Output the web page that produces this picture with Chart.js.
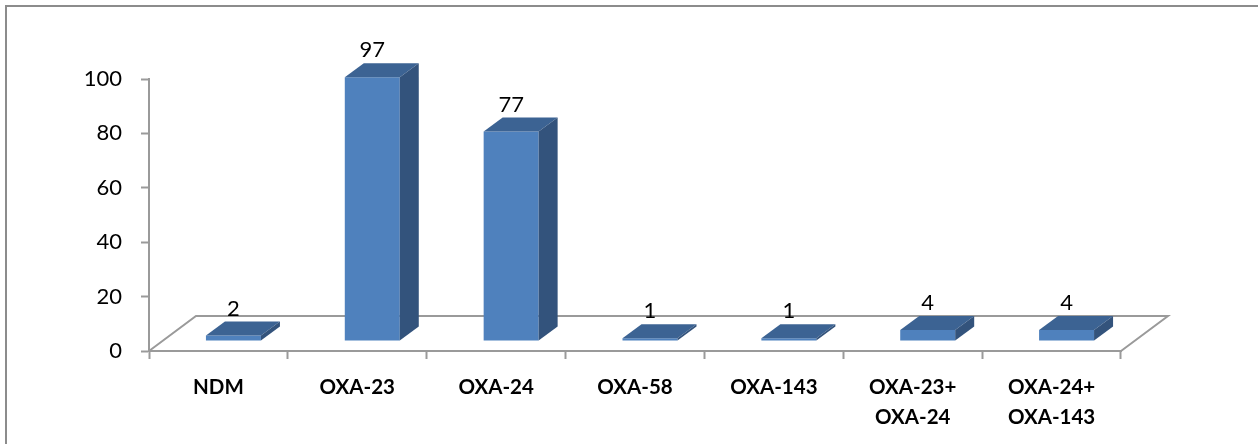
<!DOCTYPE html>
<html>
<head>
<meta charset="utf-8">
<script src="https://cdn.jsdelivr.net/npm/chart.js@4/dist/chart.umd.min.js"></script>
<style>
  html, body { margin: 0; padding: 0; background: #ffffff; }
  #wrap { width: 1258px; height: 444px; position: relative; }
  canvas { display: block; }
</style>
</head>
<body>
<div id="wrap"><canvas id="chart" width="1258" height="444"></canvas></div>
<script>
// Carbapenemase genes detected (number of isolates)
const categories = ['NDM', 'OXA-23', 'OXA-24', 'OXA-58', 'OXA-143', ['OXA-23+', 'OXA-24'], ['OXA-24+', 'OXA-143']];
const counts = [2, 97, 77, 1, 1, 4, 4];
const yTickValues = [0, 20, 40, 60, 80, 100];

const FONT = 'Lato, "Open Sans", sans-serif';
const AXIS_GRAY = '#9a9a9a';

// Pseudo-3D geometry (pixels): floor depth, bar shift into the floor, bar depth
const view = {
  floorDx: 47, floorDy: -35,
  barDx: 15, barDy: -10,
  depthDx: 19, depthDy: -14
};

const faceColors = {
  front: '#4f81bd',
  top: '#3c6393',
  side: '#33537c'
};

const frame3d = {
  id: 'frame3d',
  beforeDraw(chart) {
    const ctx = chart.ctx;
    ctx.save();
    ctx.strokeStyle = '#8c8c8c';
    ctx.lineWidth = 2;
    ctx.strokeRect(6, 6, chart.width + 20, chart.height + 20);
    ctx.restore();
  },
  beforeDatasetsDraw(chart) {
    // floor outline: left edge, back edge, right edge
    const { left, right, bottom } = chart.chartArea;
    const ctx = chart.ctx;
    ctx.save();
    ctx.strokeStyle = AXIS_GRAY;
    ctx.lineWidth = 2;
    ctx.beginPath();
    ctx.moveTo(left, bottom);
    ctx.lineTo(left + view.floorDx, bottom + view.floorDy);
    ctx.lineTo(right + view.floorDx, bottom + view.floorDy);
    ctx.lineTo(right, bottom);
    ctx.stroke();
    ctx.restore();
  },
  beforeDatasetDraw(chart) {
    chart.ctx.save();
    chart.ctx.translate(view.barDx, view.barDy);
  },
  afterDatasetDraw(chart, args) {
    const ctx = chart.ctx;
    const meta = args.meta;
    const values = chart.data.datasets[args.index].data;
    meta.data.forEach((bar, i) => {
      const { x, y, base, width } = bar.getProps(['x', 'y', 'base', 'width'], true);
      const l = x - width / 2;
      const r = x + width / 2;
      const dx = view.depthDx, dy = view.depthDy;
      // top face
      ctx.fillStyle = faceColors.top;
      ctx.beginPath();
      ctx.moveTo(l, y);
      ctx.lineTo(r, y);
      ctx.lineTo(r + dx, y + dy);
      ctx.lineTo(l + dx, y + dy);
      ctx.closePath();
      ctx.fill();
      // side face
      ctx.fillStyle = faceColors.side;
      ctx.beginPath();
      ctx.moveTo(r, y);
      ctx.lineTo(r + dx, y + dy);
      ctx.lineTo(r + dx, base + dy);
      ctx.lineTo(r, base);
      ctx.closePath();
      ctx.fill();
      // value label
      ctx.fillStyle = '#000000';
      ctx.font = '22px ' + FONT;
      ctx.textAlign = 'center';
      ctx.textBaseline = 'alphabetic';
      ctx.fillText(String(values[i]), x, y + dy - 6);
    });
    ctx.restore();
  }
};

new Chart(document.getElementById('chart'), {
  type: 'bar',
  data: {
    labels: categories,
    datasets: [{
      data: counts,
      backgroundColor: faceColors.front,
      borderWidth: 0,
      categoryPercentage: 1,
      barPercentage: 0.396
    }]
  },
  options: {
    responsive: false,
    animation: false,
    events: [],
    layout: { padding: { top: 79, right: 137, left: 0, bottom: 0 } },
    plugins: {
      legend: { display: false },
      tooltip: { enabled: false },
      title: { display: false }
    },
    scales: {
      x: {
        offset: true,
        grid: {
          offset: true,
          drawOnChartArea: false,
          drawTicks: true,
          tickLength: 8,
          tickColor: AXIS_GRAY,
          tickWidth: 2
        },
        border: { display: true, color: AXIS_GRAY, width: 2 },
        ticks: {
          color: '#000000',
          padding: 14,
          maxRotation: 0,
          autoSkip: false,
          font: { family: FONT, size: 20.5, weight: 'bold', lineHeight: 1.45 }
        },
        afterFit(scale) { scale.height = 93; }
      },
      y: {
        min: 0,
        max: 100,
        afterBuildTicks(scale) {
          scale.ticks = yTickValues.map(v => ({ value: v }));
        },
        grid: {
          drawOnChartArea: false,
          drawTicks: true,
          tickLength: 8,
          tickColor: AXIS_GRAY,
          tickWidth: 2
        },
        border: { display: true, color: AXIS_GRAY, width: 2 },
        ticks: {
          color: '#000000',
          padding: 19,
          font: { family: FONT, size: 22 }
        },
        afterFit(scale) { scale.width = 149; }
      }
    }
  },
  plugins: [frame3d]
});
</script>
</body>
</html>
